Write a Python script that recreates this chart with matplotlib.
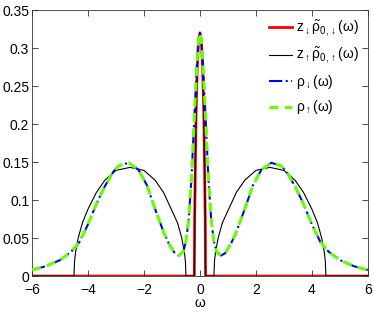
import numpy as np
import matplotlib
matplotlib.use("Agg")
import matplotlib.pyplot as plt

plt.rcParams["font.family"] = ["Liberation Sans", "DejaVu Sans"]
plt.rcParams["mathtext.fontset"] = "custom"
plt.rcParams["mathtext.rm"] = "Liberation Sans"
plt.rcParams["mathtext.it"] = "Liberation Sans"
plt.rcParams["mathtext.bf"] = "Liberation Sans:bold"

# right half (omega >= 0) of the symmetric curves
w_rho = [0.0, 0.05, 0.1, 0.2, 0.3, 0.4, 0.5, 0.6, 0.75, 0.9, 1.1, 1.3, 1.6,
         1.9, 2.2, 2.55, 2.9, 3.1, 3.4, 3.7, 4.0, 4.3, 4.6, 5.0, 5.5, 6.0]
rho = [0.32, 0.31, 0.285, 0.21, 0.13, 0.075, 0.045, 0.032, 0.027, 0.03,
       0.042, 0.058, 0.088, 0.12, 0.14, 0.149, 0.145, 0.137, 0.118, 0.095,
       0.068, 0.045, 0.032, 0.021, 0.013, 0.008]

w_up = [0.0, 0.05, 0.1, 0.14, 0.17, 0.19, 0.2, 0.5, 0.52, 0.56, 0.65, 0.8,
        1.0, 1.3, 1.6, 2.0, 2.5, 3.0, 3.4, 3.7, 4.0, 4.2, 4.35, 4.44, 4.48,
        4.5, 6.0]
z_up = [0.32, 0.31, 0.27, 0.21, 0.13, 0.07, 0.0, 0.0, 0.02, 0.032, 0.05,
        0.07, 0.086, 0.11, 0.126, 0.139, 0.143, 0.139, 0.126, 0.11, 0.088,
        0.07, 0.05, 0.032, 0.02, 0.0, 0.0]

w_dn = [0.0, 0.05, 0.1, 0.14, 0.17, 0.19, 0.2, 6.0]
z_dn = [0.32, 0.31, 0.27, 0.21, 0.13, 0.07, 0.0, 0.0]


def mirror(w, v):
    w = np.asarray(w)
    v = np.asarray(v)
    return np.concatenate([-w[:0:-1], w]), np.concatenate([v[:0:-1], v])


fig = plt.figure(figsize=(3.74, 3.13), dpi=100)
ax = fig.add_axes([0.0856, 0.118, 0.898, 0.85])

x, y = mirror(w_dn, z_dn)
ax.plot(x, y, color="red", lw=2.0, zorder=1,
        label=r"$\mathrm{z}_{\downarrow}\tilde{\rho}_{0,\downarrow}(\omega)$")
x, y = mirror(w_up, z_up)
ax.plot(x, y, color="black", lw=0.8, zorder=2,
        label=r"$\mathrm{z}_{\uparrow}\tilde{\rho}_{0,\uparrow}(\omega)$")
x, y = mirror(w_rho, rho)
ax.plot(x, y, color="blue", lw=1.5, ls="-.", zorder=3,
        label=r"$\rho_{\downarrow}(\omega)$")
ax.plot(x, y, color="#66ff00", lw=2.2, ls=(0, (3, 2)), zorder=4,
        label=r"$\rho_{\uparrow}(\omega)$")

ax.set_xlim(-6, 6)
ax.set_ylim(0, 0.35)
ax.set_xticks([-6, -4, -2, 0, 2, 4, 6])
ax.set_yticks([0, 0.05, 0.1, 0.15, 0.2, 0.25, 0.3, 0.35])
ax.set_yticklabels(["0", "0.05", "0.1", "0.15", "0.2", "0.25", "0.3", "0.35"])
ax.tick_params(direction="in", top=True, right=True, labelsize=10,
               length=4, width=0.5)
ax.tick_params(axis="x", pad=5)
ax.tick_params(axis="y", pad=2)
for s in ax.spines.values():
    s.set_linewidth(0.6)
    s.set_color("#333333")
ax.set_xlabel(r"$\omega$", fontsize=10, labelpad=-1)

ax.legend(loc="upper right", frameon=False, fontsize=10, handlelength=1.7,
          handletextpad=0.3, labelspacing=0.55, borderaxespad=0.2)

fig.savefig("out.png", dpi=100)
